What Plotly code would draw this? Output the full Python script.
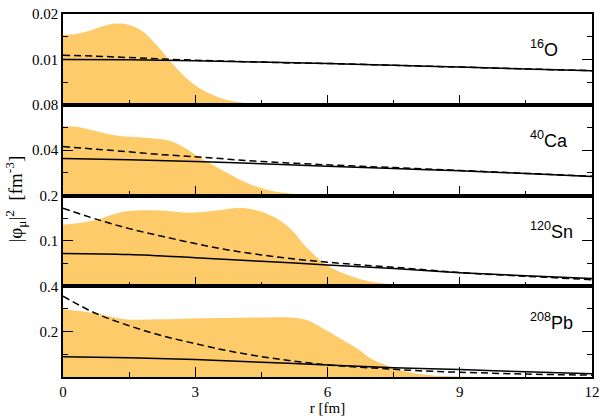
import plotly.graph_objs as go

# radial grid for the potential-like curves
r_line = [0, 1.5, 3, 4.5, 6, 7.5, 9, 10.5, 12]
r_dash = [0, 0.75, 1.5, 2.25, 3, 3.75, 4.5, 5.25, 6, 6.75, 7.5, 8.25, 9, 10.5, 12]

# 16O
r_fill_O = [0, 0.3, 0.6, 0.9, 1.2, 1.5, 1.8, 2.1, 2.4, 2.7, 3.0, 3.3, 3.6, 3.9, 4.2, 4.5, 4.8, 12]
fill_O = [0.0154, 0.0156, 0.0163, 0.0173, 0.0179, 0.0176, 0.0162, 0.0134, 0.0100, 0.0068,
          0.0043, 0.0026, 0.0014, 0.0007, 0.0003, 0.0001, 0.0, 0.0]
solid_O = [0.0100, 0.0099, 0.0097, 0.0094, 0.0091, 0.0087, 0.0083, 0.0079, 0.0075]
dash_O = [0.0109, 0.0107, 0.0104, 0.0101, 0.0098, 0.0096, 0.0094, 0.0092, 0.0091, 0.0089,
          0.0087, 0.0085, 0.0083, 0.0079, 0.0075]

# 40Ca
r_fill_Ca = [0, 0.4, 0.8, 1.2, 1.6, 2.0, 2.4, 2.7, 3.0, 3.3, 3.6, 3.9, 4.2, 4.5, 4.8, 5.1,
             5.4, 5.7, 6.0, 6.3, 12]
fill_Ca = [0.0615, 0.0600, 0.0563, 0.0530, 0.0515, 0.0505, 0.0485, 0.0435, 0.0360, 0.0290,
           0.0225, 0.0162, 0.0105, 0.0064, 0.0036, 0.0020, 0.0010, 0.0004, 0.0001, 0.0, 0.0]
solid_Ca = [0.0326, 0.0316, 0.0300, 0.0280, 0.0257, 0.0237, 0.0218, 0.0194, 0.0168]
dash_Ca = [0.0431, 0.0408, 0.0385, 0.0360, 0.0342, 0.0320, 0.0300, 0.0285, 0.0270, 0.0258,
           0.0246, 0.0234, 0.0221, 0.0195, 0.0170]

# 120Sn
r_fill_Sn = [0, 0.7, 1.4, 2.2, 2.9, 3.7, 4.0, 4.4, 4.8, 5.2, 5.5, 5.9, 6.3, 6.7, 7.0, 7.4,
             7.8, 8.2, 8.6, 12]
fill_Sn = [0.1355, 0.1447, 0.1645, 0.1670, 0.1620, 0.1695, 0.1730, 0.1670, 0.1520, 0.1230,
           0.0880, 0.0525, 0.0310, 0.0170, 0.0100, 0.0050, 0.0020, 0.0006, 0.0, 0.0]
solid_Sn = [0.0723, 0.0700, 0.0630, 0.0550, 0.0470, 0.0390, 0.0300, 0.0230, 0.0170]
dash_Sn = [0.172, 0.148, 0.127, 0.110, 0.094, 0.080, 0.069, 0.060, 0.053, 0.047, 0.042,
           0.036, 0.030, 0.022, 0.0145]

# 208Pb
r_fill_Pb = [0, 0.7, 1.4, 2.2, 2.9, 3.7, 4.4, 5.2, 5.55, 5.9, 6.3, 6.7, 7.0, 7.4, 7.8, 8.0,
             8.4, 8.8, 9.2, 9.6, 12]
fill_Pb = [0.299, 0.282, 0.255, 0.254, 0.258, 0.260, 0.262, 0.262, 0.250, 0.214, 0.169,
           0.122, 0.0795, 0.047, 0.0226, 0.015, 0.007, 0.003, 0.001, 0.0, 0.0]
solid_Pb = [0.089, 0.085, 0.077, 0.065, 0.053, 0.041, 0.033, 0.023, 0.014]
dash_Pb = [0.356, 0.280, 0.226, 0.182, 0.147, 0.115, 0.090, 0.070, 0.053, 0.043, 0.034,
           0.026, 0.021, 0.013, 0.008]

nuclei = ['<sup>16</sup>O', '<sup>40</sup>Ca', '<sup>120</sup>Sn', '<sup>208</sup>Pb']
y_max = [0.02, 0.08, 0.2, 0.4]
y_major = [[0.01, 0.02], [0.04, 0.08], [0.1, 0.2], [0.2, 0.4]]
y_major_text = [['0.01', '0.02'], ['0.04', '0.08'], ['0.1', '0.2'], ['0.2', '0.4']]
y_minor = [[0.005, 0.015], [0.02, 0.06], [0.05, 0.15], [0.1, 0.3]]
x_major = [0, 3, 6, 9, 12]
x_minor = [1.5, 4.5, 7.5, 10.5]

panels = [
    (r_fill_O, fill_O, solid_O, dash_O),
    (r_fill_Ca, fill_Ca, solid_Ca, dash_Ca),
    (r_fill_Sn, fill_Sn, solid_Sn, dash_Sn),
    (r_fill_Pb, fill_Pb, solid_Pb, dash_Pb),
]

orange = '#FECB6A'
serif = 'Liberation Serif'

data = []
for i, (rf, f, s, d) in enumerate(panels):
    n = '' if i == 0 else str(i + 1)
    data.append(go.Scatter(x=rf, y=f, mode='lines', fill='tozeroy',
                           fillcolor=orange, line=dict(width=0, shape='spline', color=orange),
                           xaxis='x' + n, yaxis='y' + n, showlegend=False))
    data.append(go.Scatter(x=r_dash, y=d, mode='lines',
                           line=dict(color='black', width=1.5, dash='7px,4px', shape='spline'),
                           xaxis='x' + n, yaxis='y' + n, showlegend=False))
    data.append(go.Scatter(x=r_line, y=s, mode='lines',
                           line=dict(color='black', width=1.5, shape='spline'),
                           xaxis='x' + n, yaxis='y' + n, showlegend=False))

layout = dict(
    width=606, height=420,
    margin=dict(l=63, r=9, t=6, b=38),
    paper_bgcolor='white', plot_bgcolor='white',
    font=dict(family=serif, size=15, color='black'),
    showlegend=False,
    annotations=[],
)

label_x = [11.27, 11.49, 11.62, 11.62]
for i in range(4):
    n = '' if i == 0 else str(i + 1)
    top = 1 - 0.25 * i
    layout['xaxis' + n] = dict(
        domain=[0, 1], anchor='y' + n, range=[0, 12],
        showline=True, linecolor='black', linewidth=1.5, mirror=True,
        showgrid=False, zeroline=False,
        ticks='inside', ticklen=10, tickwidth=1, tickcolor='black',
        tickvals=x_major, showticklabels=(i == 3),
        minor=dict(ticks='inside', ticklen=5, tickwidth=1, tickcolor='black',
                   tickvals=x_minor, showgrid=False),
        tickfont=dict(family=serif, size=15),
    )
    layout['yaxis' + n] = dict(
        domain=[top - 0.25, top], anchor='x' + n, range=[0, y_max[i]],
        showline=True, linecolor='black', linewidth=1.5, mirror='ticks',
        showgrid=False, zeroline=False,
        ticks='inside', ticklen=10, tickwidth=1, tickcolor='black',
        tickvals=y_major[i], ticktext=y_major_text[i],
        minor=dict(ticks='inside', ticklen=5, tickwidth=1, tickcolor='black',
                   tickvals=y_minor[i], showgrid=False),
        tickfont=dict(family=serif, size=15),
    )
    layout['annotations'].append(dict(
        text=nuclei[i], xref='x' + n, yref='y' + n,
        x=label_x[i], y=0.615 * y_max[i], xanchor='right', yanchor='middle',
        showarrow=False, font=dict(family='Liberation Sans', size=18, color='black')))

layout['xaxis4']['title'] = dict(text='r [fm]', font=dict(family=serif, size=15), standoff=4)

layout['annotations'].append(dict(
    text='|\u03c6<sub>\u03bc</sub>|<sup>2</sup>  [fm<sup>-3</sup>]',
    xref='paper', yref='paper', x=-0.09, y=0.49, xanchor='center', yanchor='middle',
    textangle=-90, showarrow=False, font=dict(family=serif, size=19, color='black')))

fig = go.Figure(data=data, layout=go.Layout(layout))
fig.write_html('out.html', config=dict(displayModeBar=False),
               post_script="document.body.style.margin='0';")
